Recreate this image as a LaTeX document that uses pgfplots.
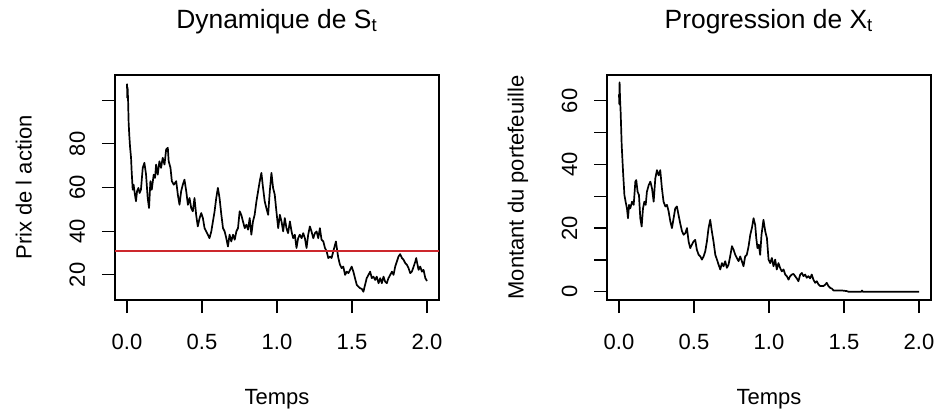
\documentclass[border=0pt]{standalone}
\usepackage{fontspec}
\setmainfont{Liberation Sans}
\usepackage{pgfplots}
\usepackage{pgfplotstable}
\pgfplotsset{compat=1.18}
\definecolor{rred}{RGB}{205,40,45}

\pgfplotstableread{
x y
0.000 107.5
0.002 101.1
0.004 105.7
0.007 100.4
0.011 89.6
0.015 84.3
0.020 78.9
0.027 73.6
0.031 67.5
0.038 59.0
0.044 61.3
0.053 56.7
0.060 53.7
0.067 58.3
0.076 59.8
0.084 57.5
0.093 59.0
0.105 69.0
0.116 71.3
0.127 65.9
0.138 55.2
0.147 50.6
0.156 62.9
0.165 59.0
0.178 65.9
0.187 64.4
0.194 70.5
0.205 65.9
0.216 72.0
0.227 69.0
0.238 73.6
0.250 70.5
0.261 77.4
0.272 78.2
0.278 72.0
0.290 69.0
0.299 62.9
0.312 61.3
0.328 62.9
0.339 56.7
0.350 52.1
0.361 58.3
0.372 61.3
0.383 63.6
0.395 58.3
0.406 52.1
0.417 55.2
0.428 50.6
0.439 49.1
0.450 55.2
0.461 47.5
0.472 42.2
0.484 46.0
0.495 48.3
0.506 46.0
0.517 41.4
0.528 39.9
0.539 38.4
0.550 36.8
0.562 39.9
0.573 44.5
0.584 49.1
0.595 55.2
0.606 59.8
0.617 55.2
0.629 47.5
0.640 41.4
0.651 39.9
0.662 36.8
0.673 33.0
0.684 38.4
0.695 35.3
0.707 38.4
0.718 36.1
0.729 39.9
0.740 41.4
0.751 49.1
0.762 47.5
0.773 44.5
0.785 41.4
0.796 43.0
0.807 40.7
0.818 46.0
0.829 38.4
0.840 44.5
0.851 47.5
0.863 53.7
0.874 58.3
0.885 62.9
0.896 66.7
0.907 59.8
0.918 53.7
0.929 50.6
0.941 47.5
0.952 58.3
0.963 66.7
0.974 59.8
0.985 56.7
0.996 49.1
1.008 41.4
1.019 47.5
1.030 44.5
1.041 39.9
1.052 46.0
1.063 41.4
1.074 39.1
1.086 44.5
1.097 39.9
1.108 36.8
1.119 38.4
1.130 32.3
1.141 36.8
1.152 38.4
1.164 36.8
1.175 39.1
1.186 36.8
1.197 32.3
1.208 38.4
1.219 42.2
1.230 39.9
1.242 36.8
1.253 39.1
1.264 39.9
1.275 36.8
1.286 41.4
1.297 36.1
1.309 35.3
1.320 32.3
1.331 30.7
1.342 27.7
1.353 28.4
1.364 27.7
1.375 30.7
1.387 33.8
1.393 35.3
1.402 30.7
1.409 27.7
1.420 24.6
1.431 23.1
1.442 23.8
1.454 20.0
1.465 21.5
1.476 20.8
1.487 22.3
1.498 23.8
1.509 21.5
1.520 18.5
1.532 15.4
1.543 14.6
1.554 13.9
1.565 13.6
1.576 12.3
1.587 15.4
1.598 18.5
1.610 20.0
1.621 21.5
1.632 18.5
1.643 19.2
1.654 17.7
1.665 19.2
1.677 16.2
1.688 18.5
1.699 16.2
1.710 19.2
1.721 16.9
1.732 16.2
1.743 18.5
1.755 20.0
1.766 21.5
1.777 20.0
1.788 23.8
1.799 26.1
1.810 28.4
1.821 29.5
1.833 27.7
1.844 26.9
1.855 25.4
1.866 24.6
1.877 23.1
1.888 20.8
1.899 21.5
1.911 23.8
1.922 26.1
1.928 27.7
1.937 24.6
1.944 22.3
1.955 23.8
1.966 21.5
1.977 22.3
1.989 18.5
2.000 17.2
}\stocktable

\pgfplotstableread{
x y
0.000 62.0
0.002 59.0
0.004 65.8
0.007 60.5
0.011 56.4
0.018 46.0
0.027 37.7
0.036 30.4
0.044 28.3
0.053 26.2
0.060 23.1
0.067 27.3
0.075 26.2
0.087 28.3
0.098 27.3
0.109 34.6
0.115 35.1
0.124 31.4
0.133 30.4
0.142 23.1
0.151 20.5
0.160 26.2
0.169 28.3
0.178 27.3
0.186 31.4
0.198 33.5
0.209 34.6
0.220 32.5
0.231 28.3
0.242 35.6
0.253 38.2
0.264 36.6
0.275 38.2
0.286 32.5
0.297 28.3
0.309 26.8
0.320 27.3
0.331 25.2
0.342 22.1
0.353 20.0
0.364 23.1
0.375 26.2
0.386 26.8
0.397 24.1
0.408 21.5
0.420 19.0
0.431 17.9
0.442 18.4
0.453 20.0
0.464 15.8
0.475 13.7
0.486 14.8
0.497 15.8
0.508 16.3
0.519 13.2
0.531 11.6
0.542 11.1
0.553 10.1
0.564 11.1
0.575 12.7
0.586 15.8
0.597 20.0
0.608 22.6
0.619 19.0
0.630 15.8
0.642 11.6
0.653 10.1
0.664 8.5
0.675 7.0
0.686 9.0
0.697 8.0
0.708 9.6
0.719 7.5
0.730 8.5
0.741 11.1
0.753 14.3
0.764 13.2
0.775 11.6
0.786 10.6
0.797 9.6
0.808 11.1
0.819 9.6
0.830 8.0
0.841 11.1
0.852 11.6
0.864 14.3
0.875 17.9
0.886 20.0
0.897 23.1
0.908 21.0
0.915 16.9
0.923 13.7
0.932 14.8
0.941 11.6
0.950 17.9
0.963 22.6
0.975 19.0
0.986 16.9
0.997 10.1
1.008 9.0
1.019 10.6
1.030 8.0
1.041 10.1
1.052 7.0
1.063 9.0
1.074 7.5
1.085 6.4
1.097 7.0
1.108 5.4
1.119 4.9
1.130 3.8
1.141 4.9
1.152 5.4
1.163 5.6
1.174 4.9
1.185 4.2
1.196 3.3
1.208 5.4
1.219 5.9
1.230 4.9
1.241 5.4
1.252 4.4
1.263 4.9
1.274 4.2
1.285 5.4
1.296 3.8
1.308 2.8
1.319 3.3
1.330 2.3
1.341 1.8
1.352 1.8
1.363 1.8
1.374 2.2
1.385 2.8
1.396 1.8
1.408 1.2
1.419 1.0
1.430 0.4
1.452 0.4
1.485 0.4
1.519 0.2
1.530 0.0
1.615 0.0
1.620 0.4
1.625 0.0
2.000 0.0
}\portfoliotable

\pgfplotsset{
  rstyle/.style={
    scale only axis,
    width=162pt, height=112.5pt,
    anchor=south west,
    xmin=-0.08, xmax=2.08,
    axis line style={black, line width=0.6pt},
    tick pos=left,
    tick align=outside,
    major tick length=6.5pt,
    every tick/.style={black, line width=0.6pt},
    xtick={0,0.5,1,1.5,2},
    xticklabels={0.0,0.5,1.0,1.5,2.0},
    tick label style={font=\fontsize{11}{13}\selectfont},
    xticklabel style={anchor=base, yshift=-18pt},
    yticklabel style={xshift=-8.5pt, rotate=90, anchor=base},
    label style={font=\fontsize{11}{13}\selectfont},
    title style={font=\fontsize{13.2}{15}\selectfont, at={(axis description cs:0.5,1)}, anchor=base, yshift=17.5pt},
    xlabel style={at={(axis description cs:0.5,0)}, anchor=base, yshift=-52pt},
    ylabel style={at={(axis description cs:-0.2577,0.5)}, anchor=base, rotate=0},
    clip=true,
  }
}

\begin{document}
\begin{tikzpicture}
\useasboundingbox (0pt,0pt) rectangle (468pt,-207pt);
\begin{axis}[rstyle,
  at={(57.5pt,-150pt)},
  ymin=8.5, ymax=111.5,
  ytick={20,40,60,80,100},
  yticklabels={20,40,60,80,{}},
  title={Dynamique de S\textsubscript{t}},
  xlabel={Temps},
  ylabel={Prix de l action},
]
\addplot[black, line width=0.85pt, line join=round] table[x=x,y=y] {\stocktable};
\addplot[rred, line width=0.7pt] coordinates {(-0.08,31) (2.08,31)};
\end{axis}
\begin{axis}[rstyle,
  at={(303.5pt,-150pt)},
  ymin=-2.6, ymax=68.1,
  ytick={0,10,20,30,40,50,60},
  yticklabels={0,{},20,{},40,{},60},
  title={Progression de X\textsubscript{t}},
  xlabel={Temps},
  ylabel={Montant du portefeuille},
]
\addplot[black, line width=0.85pt, line join=round] table[x=x,y=y] {\portfoliotable};
\end{axis}
\end{tikzpicture}
\end{document}
